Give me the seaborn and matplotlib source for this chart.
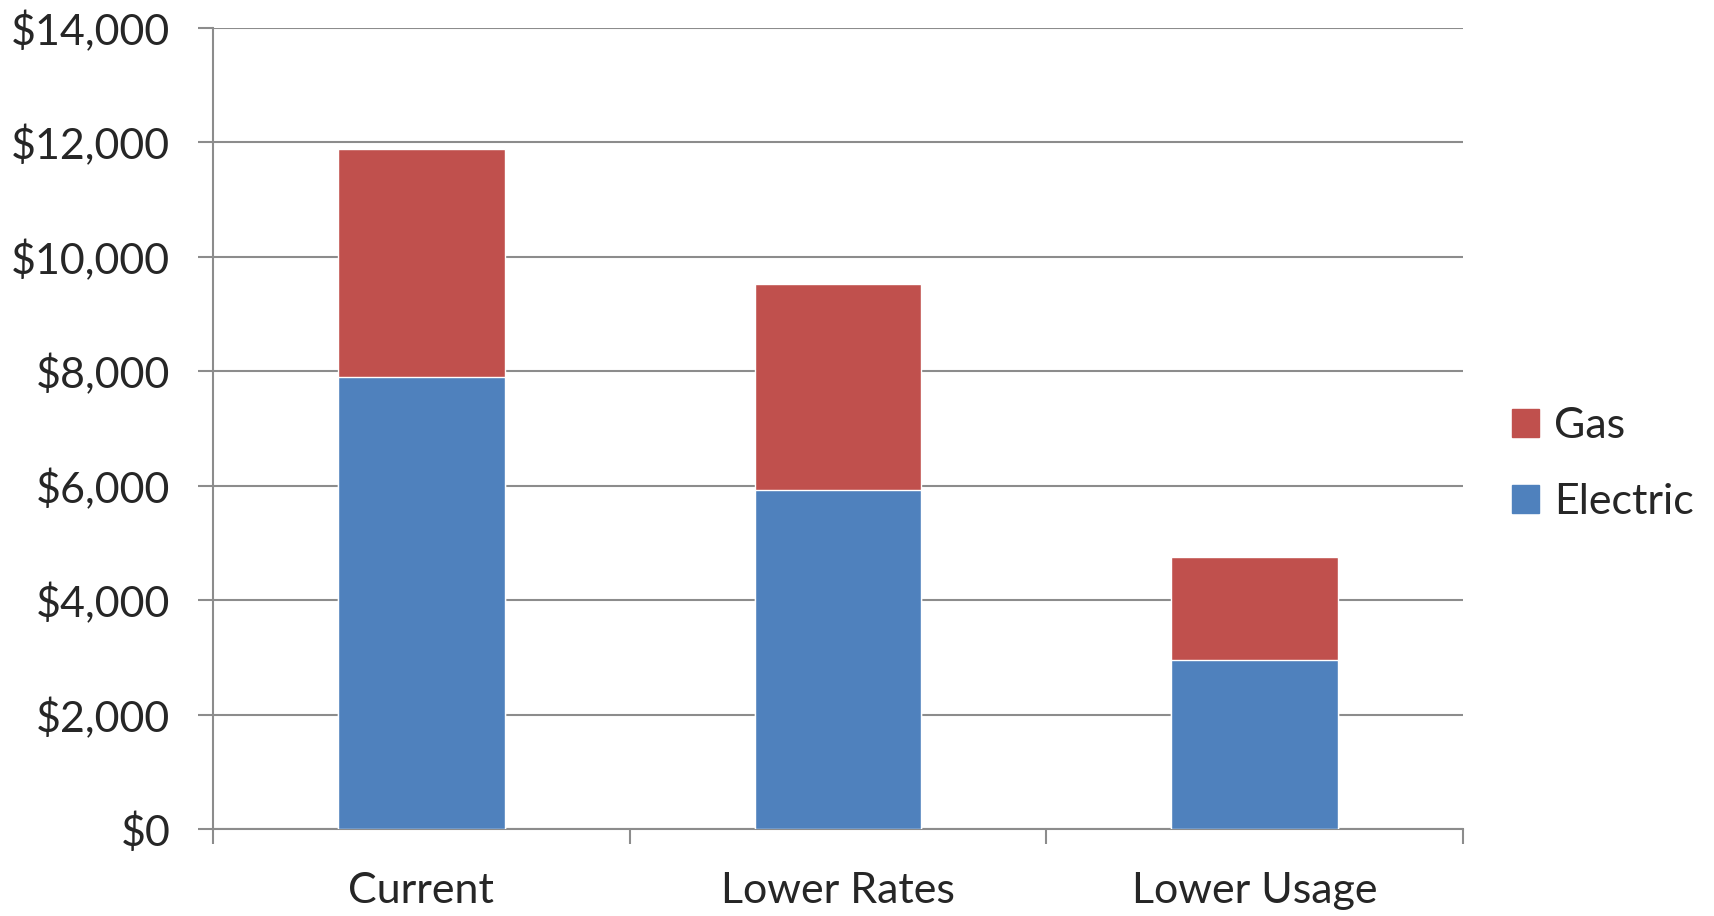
import matplotlib
matplotlib.use('Agg')
import matplotlib.pyplot as plt
import matplotlib.ticker as mticker
from matplotlib.patches import Patch
import seaborn as sns
import pandas as pd

# data
scenarios = ['Current', 'Lower Rates', 'Lower Usage']
electric = [7900, 5920, 2960]
gas = [3990, 3610, 1800]

gas_color = '#C0504D'
electric_color = '#4F81BD'
grid_color = '#8C8C8C'

df = pd.DataFrame({'scenario': scenarios, 'electric': electric, 'gas': gas})
df['total'] = df['electric'] + df['gas']

sns.set_style('white')
plt.rcParams['font.family'] = ['Lato', 'DejaVu Sans']

fig = plt.figure(figsize=(17.15, 9.16), dpi=100)
ax = fig.add_axes([213 / 1715, 1 - 829 / 916, 1250 / 1715, (829 - 28) / 916])

# stacked bars: total drawn in gas colour, electric on top of it
sns.barplot(data=df, x='scenario', y='total', color=gas_color, width=0.4,
            saturation=1, ax=ax, zorder=3)
sns.barplot(data=df, x='scenario', y='electric', color=electric_color, width=0.4,
            saturation=1, ax=ax, zorder=3)

ax.set_ylim(0, 14000)
ax.set_xlim(-0.5, 2.5)
ax.set_yticks(range(0, 14001, 2000))
ax.yaxis.set_major_formatter(mticker.FuncFormatter(lambda v, p: f'${v:,.0f}'))
ax.grid(axis='y', color=grid_color, linewidth=1.5, zorder=0)
ax.set_axisbelow(True)

# x ticks at category boundaries, labels at centres
ax.set_xticks([-0.5, 0.5, 1.5, 2.5])
ax.set_xticklabels([])
ax.set_xticks(range(len(scenarios)), minor=True)
ax.set_xticklabels(scenarios, minor=True)
ax.tick_params(axis='x', which='major', length=10.8, width=1.5, color=grid_color, direction='out', bottom=True)
ax.tick_params(axis='x', which='minor', length=0, pad=31, labelsize=31)
ax.tick_params(axis='y', length=10.8, width=1.5, color=grid_color, direction='out', left=True, pad=20, labelsize=31)

ax.set_xlabel('')
ax.set_ylabel('')
for side in ['top', 'right']:
    ax.spines[side].set_visible(False)
for side in ['left', 'bottom']:
    ax.spines[side].set_color(grid_color)
    ax.spines[side].set_linewidth(1.5)

handles = [Patch(color=gas_color, label='Gas'), Patch(color=electric_color, label='Electric')]
fig.legend(handles=handles, loc='upper left', bbox_to_anchor=(1512 / 1715, 1 - 407 / 916),
           frameon=False, fontsize=31, handlelength=0.62, handleheight=0.62,
           handletextpad=0.35, labelspacing=0.88, borderpad=0, borderaxespad=0)

fig.savefig('out.png', dpi=100)
